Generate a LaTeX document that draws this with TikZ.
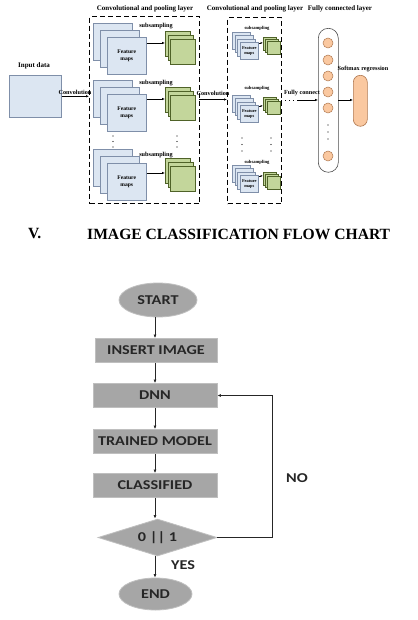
\documentclass[tikz,border=0pt]{standalone}
\usepackage{fontspec}
\setmainfont{Liberation Serif}
\newfontfamily\calfont{Carlito}
\usetikzlibrary{shapes.geometric,arrows.meta}
\definecolor{fmfill}{HTML}{DCE6F2}
\definecolor{fmline}{HTML}{7F8FA9}
\definecolor{grfill}{HTML}{C3D69B}
\definecolor{grline}{HTML}{4F6228}
\definecolor{orfill}{HTML}{FAC8A0}
\definecolor{orline}{HTML}{B07850}
\definecolor{flfill}{HTML}{A6A6A6}
\definecolor{flline}{HTML}{BFBFBF}
\definecolor{fltext}{HTML}{262626}
\newcommand{\fctext}[1]{\scalebox{1.2}[1]{\calfont\bfseries #1}}
\begin{document}
\begin{tikzpicture}[x=1pt,y=-1pt,
  lbl/.style={font=\fontsize{6.2}{6.2}\selectfont\bfseries, inner sep=0},
  tlbl/.style={font=\fontsize{7}{7}\selectfont\bfseries, inner sep=0},
  slbl/.style={font=\fontsize{4.6}{4.6}\selectfont\bfseries, inner sep=0},
  fmap/.style={draw=fmline, fill=fmfill, line width=0.5pt, minimum width=39pt, minimum height=37pt, inner sep=0, anchor=north west},
  fmapt/.style={fmap, align=center, font=\fontsize{5.6}{6.2}\selectfont\bfseries},
  sfmap/.style={draw=fmline, fill=fmfill, line width=0.4pt, minimum width=18pt, minimum height=17pt, inner sep=0, anchor=north west},
  sfmapt/.style={sfmap, align=center, font=\fontsize{4.4}{5}\selectfont\bfseries},
  grsq/.style={draw=grline, fill=grfill, line width=0.5pt, minimum width=25pt, minimum height=25pt, inner sep=0, anchor=north west},
  sgrsq/.style={draw=grline, fill=grfill, line width=0.4pt, minimum width=13pt, minimum height=13pt, inner sep=0, anchor=north west},
  dbox/.style={draw, line width=1.1pt, dash pattern=on 5pt off 3pt, anchor=north west, inner sep=0},
  arr/.style={-{Latex[length=3pt,width=2.5pt]}, line width=0.6pt},
  sarr/.style={-{Latex[length=2.5pt,width=2pt]}, line width=0.5pt},
  fdot/.style={circle, fill=black, inner sep=0, minimum size=1.1pt},
  neuron/.style={circle, draw=orline, fill=orfill, line width=0.5pt, minimum size=10pt, inner sep=0},
  flbox/.style={draw=flline, fill=flfill, line width=0.8pt, minimum width=124pt, minimum height=24pt, inner sep=0, font=\fontsize{13.5}{13.5}\selectfont, text=fltext},
  flell/.style={ellipse, draw=flline, fill=flfill, line width=0.8pt, inner sep=0, font=\fontsize{13.5}{13.5}\selectfont, text=fltext},
  fllbl/.style={font=\fontsize{13.5}{13.5}\selectfont, text=fltext, inner sep=0},
  flarr/.style={-{Latex[length=3.5pt,width=3pt]}, line width=0.8pt, draw=black!85},
  head/.style={font=\fontsize{15.6}{15.6}\selectfont\bfseries, anchor=west, inner sep=0},
]
\useasboundingbox (0,0) rectangle (417,620);
\fill[white] (0,0) rectangle (417,620);

% ---------------- titles
\node[tlbl] (t1) at (145,9) {Convolutional and pooling layer};
\node[tlbl] (t2) at (255,9) {Convolutional and pooling layer};
\node[tlbl] (t3) at (340,9) {Fully connected layer};

% ---------------- input
\node[tlbl] (inlbl) at (34,66) {Input data};
\node[draw=fmline, fill=fmfill, line width=0.6pt, minimum width=52pt, minimum height=42pt, inner sep=0, anchor=north west] (input) at (9,75) {};

% ---------------- dashed boxes
\node[dbox, minimum width=110pt, minimum height=187pt] (box1) at (89,16) {};
\node[dbox, minimum width=54pt, minimum height=186pt] (box2) at (227,17) {};

% ---------------- box 1 groups
\node[fmap] (f1a) at (93,23) {};
\node[fmap] (f1b) at (100,30) {};
\node[fmapt] (f1c) at (107,37) {Feature\\maps};
\node[grsq] (g1a) at (165,31) {};
\node[grsq] (g1b) at (167.5,35) {};
\node[grsq] (g1c) at (170,39) {};
\draw[arr] ([yshift=-6pt]f1c.north east) -- ([yshift=-6pt]f1c.north east -| g1a.west);
\node[lbl] (s1) at (156,26) {subsampling};

\node[fmap] (f2a) at (93,80) {};
\node[fmap] (f2b) at (100,87) {};
\node[fmapt] (f2c) at (107,94) {Feature\\maps};
\node[grsq] (g2a) at (165,87) {};
\node[grsq] (g2b) at (167.5,91) {};
\node[grsq] (g2c) at (170,95) {};
\draw[arr] ([yshift=-5pt]f2c.north east) -- ([yshift=-5pt]f2c.north east -| g2a.west);
\node[lbl] (s2) at (156,83) {subsampling};

\node[fmap] (f3a) at (93,149) {};
\node[fmap] (f3b) at (100,156) {};
\node[fmapt] (f3c) at (107,163) {Feature\\maps};
\node[grsq] (g3a) at (165,158) {};
\node[grsq] (g3b) at (167.5,162) {};
\node[grsq] (g3c) at (170,166) {};
\draw[arr] ([yshift=-10pt]f3c.north east) -- ([yshift=-10pt]f3c.north east -| g3a.west);
\node[lbl] (s3) at (156,155) {subsampling};

\foreach \yy [count=\i] in {136,141.5,147} {
  \node[fdot] (d1l\i) at (113,\yy) {};
  \node[fdot] (d1r\i) at (177,\yy) {};
}

% ---------------- box 2 groups
\foreach \gy/\ggy/\sy/\k in {32/37/28/1, 95/97/88/2, 165/172/162/3} {
  \node[sfmap] (sf\k a) at (232,\gy) {};
  \node[sfmap] (sf\k b) at (234.7,\gy+3.3) {};
  \node[sfmap] (sf\k c) at (237.4,\gy+6.6) {};
  \node[sfmapt] (sf\k d) at (240.1,\gy+9.9) {Feature\\maps};
  \node[sgrsq] (sg\k a) at (263,\ggy) {};
  \node[sgrsq] (sg\k b) at (265,\ggy+2) {};
  \node[sgrsq] (sg\k c) at (267,\ggy+4) {};
  \node[slbl] (ss\k) at (257,\sy) {subsampling};
  \draw[sarr] ([yshift=-1pt]sf\k d.north east) -- ([yshift=-1pt]sf\k d.north east -| sg\k a.west);
}
\foreach \yy [count=\i] in {138,144.5,151} {
  \node[fdot] (d2l\i) at (242,\yy) {};
  \node[fdot] (d2r\i) at (271,\yy) {};
}

% ---------------- convolution arrows
\draw[arr] (input.east) -- (input.east -| box1.west);
\node[lbl, anchor=south] (c1) at (75,95) {Convolution};
\coordinate (c2s) at (199,99.5);
\draw[arr] (c2s) -- (c2s -| box2.west);
\node[lbl, anchor=south] (c2) at (213,96) {Convolution};

% ---------------- fully connected
\node[draw=black!70, fill=white, line width=0.6pt, rounded corners=10pt, minimum width=20pt, minimum height=144pt, inner sep=0, anchor=north west] (fc) at (318,28) {};
\foreach \yy [count=\i] in {43,60,76,92,108,156} {
  \node[neuron] (n\i) at (328,\yy) {};
}
\foreach \yy [count=\i] in {125,132,139} {
  \node[fdot] (d3\i) at (328,\yy) {};
}
\coordinate (fcs) at (281,100);
\coordinate (fcm) at (297,100);
\draw[line width=0.6pt, dash pattern=on 1pt off 3pt] (fcs) -- (fcm);
\draw[arr] (fcm) -- (fcm -| fc.west);
\node[lbl, anchor=south] (fclbl) at (302,96) {Fully connect};

\node[lbl] (smlbl) at (363,69) {Softmax regression};
\node[draw=orline, fill=orfill, line width=0.6pt, rounded corners=7pt, minimum width=14pt, minimum height=51pt, inner sep=0, anchor=north west] (soft) at (353,75) {};
\coordinate (fco) at (338,100);
\draw[arr] (fco) -- (fco -| soft.west);

% ---------------- heading
\node[head] (hv) at (28,234) {V.};
\node[head] (hd) at (87,234) {IMAGE CLASSIFICATION FLOW CHART};

% ---------------- flowchart
\node[flell, minimum width=78pt, minimum height=34pt] (start) at (158,300) {\fctext{START}};
\node[flbox, minimum width=122pt] (ins) at (156,350.5) {\fctext{INSERT IMAGE}};
\node[flbox] (dnn) at (155,395.5) {\fctext{DNN}};
\node[flbox] (tm) at (155,441.5) {\fctext{TRAINED MODEL}};
\node[flbox] (cls) at (155,485.5) {\fctext{CLASSIFIED}};
\node[diamond, draw=flline, fill=flfill, line width=0.8pt, minimum width=119pt, minimum height=37pt, inner sep=0, aspect=3.2, text=fltext, font=\fontsize{13.5}{13.5}\selectfont] (dec) at (157.5,537.5) {\fctext{0 || 1}};
\node[flell, minimum width=73pt, minimum height=32pt] (end) at (155.5,594) {\fctext{END}};

\draw[flarr] (start.south -| 155,0) -- (ins.north -| 155,0);
\draw[flarr] (ins.south -| 155,0) -- (dnn.north -| 155,0);
\draw[flarr] (dnn.south -| 155,0) -- (tm.north -| 155,0);
\draw[flarr] (tm.south -| 155,0) -- (cls.north -| 155,0);
\draw[flarr] (cls.south -| 155,0) -- (dec.north -| 155,0);
\draw[flarr] (dec.south -| 155,0) -- (end.north -| 155,0);
\draw[flarr] (dec.east) -- (272,537.5) -- (272,395.5) -- (dnn.east);

\node[fllbl] (no) at (297,478) {\fctext{NO}};
\node[fllbl] (yes) at (183,565) {\fctext{YES}};
\end{tikzpicture}
\end{document}
